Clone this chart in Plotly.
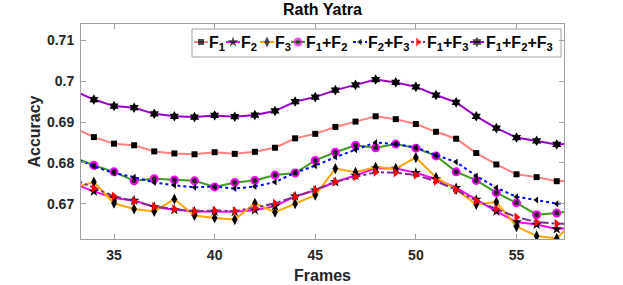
import plotly.graph_objects as go

frames = list(range(33, 59))
f1 = [0.6886, 0.6863, 0.6847, 0.6843, 0.6828, 0.6823, 0.6821, 0.6826, 0.6822, 0.6827, 0.6837, 0.6860, 0.6871,
      0.6888, 0.6901, 0.6914, 0.6907, 0.6895, 0.6876, 0.6859, 0.6824, 0.6796, 0.6772, 0.6765, 0.6755, 0.6756]
f2 = [0.6749, 0.6730, 0.6714, 0.6708, 0.6692, 0.6685, 0.6681, 0.6681, 0.6680, 0.6684, 0.6694, 0.6718, 0.6733,
      0.6753, 0.6769, 0.6787, 0.6786, 0.6776, 0.6760, 0.6739, 0.6710, 0.6681, 0.6655, 0.6649, 0.6638, 0.6641]
f3 = [0.6739, 0.6753, 0.6701, 0.6687, 0.6681, 0.6711, 0.6671, 0.6665, 0.6661, 0.6701, 0.6679, 0.6700, 0.6721,
      0.6786, 0.6777, 0.6789, 0.6786, 0.6813, 0.6764, 0.6735, 0.6698, 0.6704, 0.6644, 0.6621, 0.6615, 0.6662]
f12 = [0.6813, 0.6794, 0.6778, 0.6756, 0.6761, 0.6758, 0.6756, 0.6741, 0.6752, 0.6757, 0.6770, 0.6775, 0.6806,
       0.6826, 0.6843, 0.6837, 0.6846, 0.6836, 0.6817, 0.6778, 0.6757, 0.6727, 0.6702, 0.6673, 0.6677, 0.6685]
f23 = [0.6814, 0.6791, 0.6775, 0.6765, 0.6752, 0.6745, 0.6740, 0.6742, 0.6737, 0.6742, 0.6753, 0.6776, 0.6793,
       0.6814, 0.6832, 0.6850, 0.6846, 0.6838, 0.6819, 0.6802, 0.6768, 0.6739, 0.6717, 0.6709, 0.6700, 0.6701]
f13 = [0.6760, 0.6738, 0.6718, 0.6706, 0.6693, 0.6687, 0.6681, 0.6683, 0.6682, 0.6690, 0.6701, 0.6717, 0.6734,
       0.6754, 0.6766, 0.6777, 0.6776, 0.6770, 0.6755, 0.6734, 0.6707, 0.6687, 0.6667, 0.6655, 0.6651, 0.6650]
f123 = [0.6977, 0.6955, 0.6939, 0.6935, 0.6920, 0.6914, 0.6912, 0.6916, 0.6913, 0.6917, 0.6927, 0.6950, 0.6961,
        0.6978, 0.6991, 0.7004, 0.6997, 0.6986, 0.6966, 0.6948, 0.6914, 0.6885, 0.6862, 0.6854, 0.6845, 0.6848]

labels = ["F<sub>1</sub>", "F<sub>2</sub>", "F<sub>3</sub>", "F<sub>1</sub>+F<sub>2</sub>",
          "F<sub>2</sub>+F<sub>3</sub>", "F<sub>1</sub>+F<sub>3</sub>", "F<sub>1</sub>+F<sub>2</sub>+F<sub>3</sub>"]
xticks = [35, 40, 45, 50, 55]
yticks = [0.67, 0.68, 0.69, 0.70, 0.71]
yticktext = ["0.67", "0.68", "0.69", "0.7", "0.71"]

series = [f1, f2, f3, f12, f23, f13, f123]
styles = [
    dict(lc="#FF8080", dash="solid", sym="square", mc="black", ms=6, mlc="black", mlw=0),
    dict(lc="#FF00FF", dash="solid", sym="star", mc="black", ms=8, mlc="black", mlw=0),
    dict(lc="#FFA500", dash="solid", sym="diamond-tall", mc="black", ms=8, mlc="black", mlw=0),
    dict(lc="#3C9A1E", dash="solid", sym="circle", mc="#222222", ms=7, mlc="#FF00FF", mlw=2),
    dict(lc="#0000FF", dash="dot", sym="triangle-left", mc="black", ms=6, mlc="black", mlw=0),
    dict(lc="#7E2F8E", dash="dashdot", sym="triangle-right", mc="#FF0000", ms=8, mlc="#FF0000", mlw=0),
    dict(lc="#9900CC", dash="solid", sym="hexagram", mc="black", ms=8, mlc="black", mlw=0),
]

fig = go.Figure()
for ys, st, lab in zip(series, styles, labels):
    fig.add_trace(go.Scatter(
        x=frames, y=ys, mode="lines+markers", name=lab, showlegend=False,
        line=dict(color=st["lc"], width=2, dash=st["dash"]),
        marker=dict(symbol=st["sym"], color=st["mc"], size=st["ms"],
                    line=dict(color=st["mlc"], width=st["mlw"])),
    ))

# Custom legend laid out in pixel space on a hidden overlay axis
L, R, T, B = 81, 564, 24, 239
icon_x = [201, 233, 267, 298, 360, 418, 477]
text_x = [207, 239, 273, 304, 366, 425, 484]
icon_y = 42
for st, ix in zip(styles, icon_x):
    fig.add_trace(go.Scatter(
        x=[ix - 7, ix, ix + 7], y=[icon_y] * 3, xaxis="x2", yaxis="y2",
        mode="lines+markers", showlegend=False, hoverinfo="skip",
        line=dict(color=st["lc"], width=2, dash="solid" if st["dash"] == "solid" else "dot"),
        marker=dict(symbol=st["sym"], color=st["mc"], size=[0, st["ms"], 0],
                    line=dict(color=st["mlc"], width=st["mlw"])),
    ))

annotations = []
for lab, tx in zip(labels, text_x):
    annotations.append(dict(
        x=tx, y=icon_y + 1, xref="x2", yref="y2", text="<b>" + lab + "</b>", showarrow=False,
        xanchor="left", yanchor="middle",
        font=dict(family="Liberation Sans", size=16, color="black"),
    ))

axis_common = dict(showline=True, linecolor="#A0A0A0", linewidth=1, mirror="ticks",
                   ticks="inside", ticklen=5, tickcolor="#A0A0A0", showgrid=False, zeroline=False,
                   ticklabelstandoff=3, automargin=False,
                   tickfont=dict(family="Liberation Sans", size=14, color="#262626", weight="bold"))

fig.update_layout(
    template="none",
    width=623, height=285,
    margin=dict(l=L, r=623 - R, t=T, b=285 - B, autoexpand=False),
    paper_bgcolor="white", plot_bgcolor="white",
    font=dict(family="Liberation Sans"),
    title=dict(text="<b>Rath Yatra</b>", x=0.5 * (L + R) / 623, xanchor="center",
               yref="container", y=1, yanchor="top", pad=dict(t=4),
               font=dict(family="Liberation Sans", size=16, color="black")),
    xaxis=dict(range=[33.36, 57.36], tickvals=xticks, ticktext=[str(v) for v in xticks],
               title=dict(text="<b>Frames</b>", standoff=8,
                          font=dict(family="Liberation Sans", size=16, color="#262626")),
               **axis_common),
    yaxis=dict(range=[0.66135, 0.7140], tickvals=yticks, ticktext=yticktext,
               title=dict(text="<b>Accuracy</b>", standoff=2,
                          font=dict(family="Liberation Sans", size=16, color="#262626")),
               **axis_common),
    xaxis2=dict(range=[L, R], overlaying="x", visible=False, fixedrange=True),
    yaxis2=dict(range=[B, T], overlaying="y", visible=False, fixedrange=True),
    shapes=[dict(type="rect", xref="x2", yref="y2", x0=192, x1=561, y0=29, y1=57,
                 line=dict(color="#A0A0A0", width=1), fillcolor="white", layer="below")],
    annotations=annotations,
)

fig.write_html("out.html", config={"displayModeBar": False, "staticPlot": True},
               post_script="document.body.style.margin='0';document.body.style.overflow='hidden';")
